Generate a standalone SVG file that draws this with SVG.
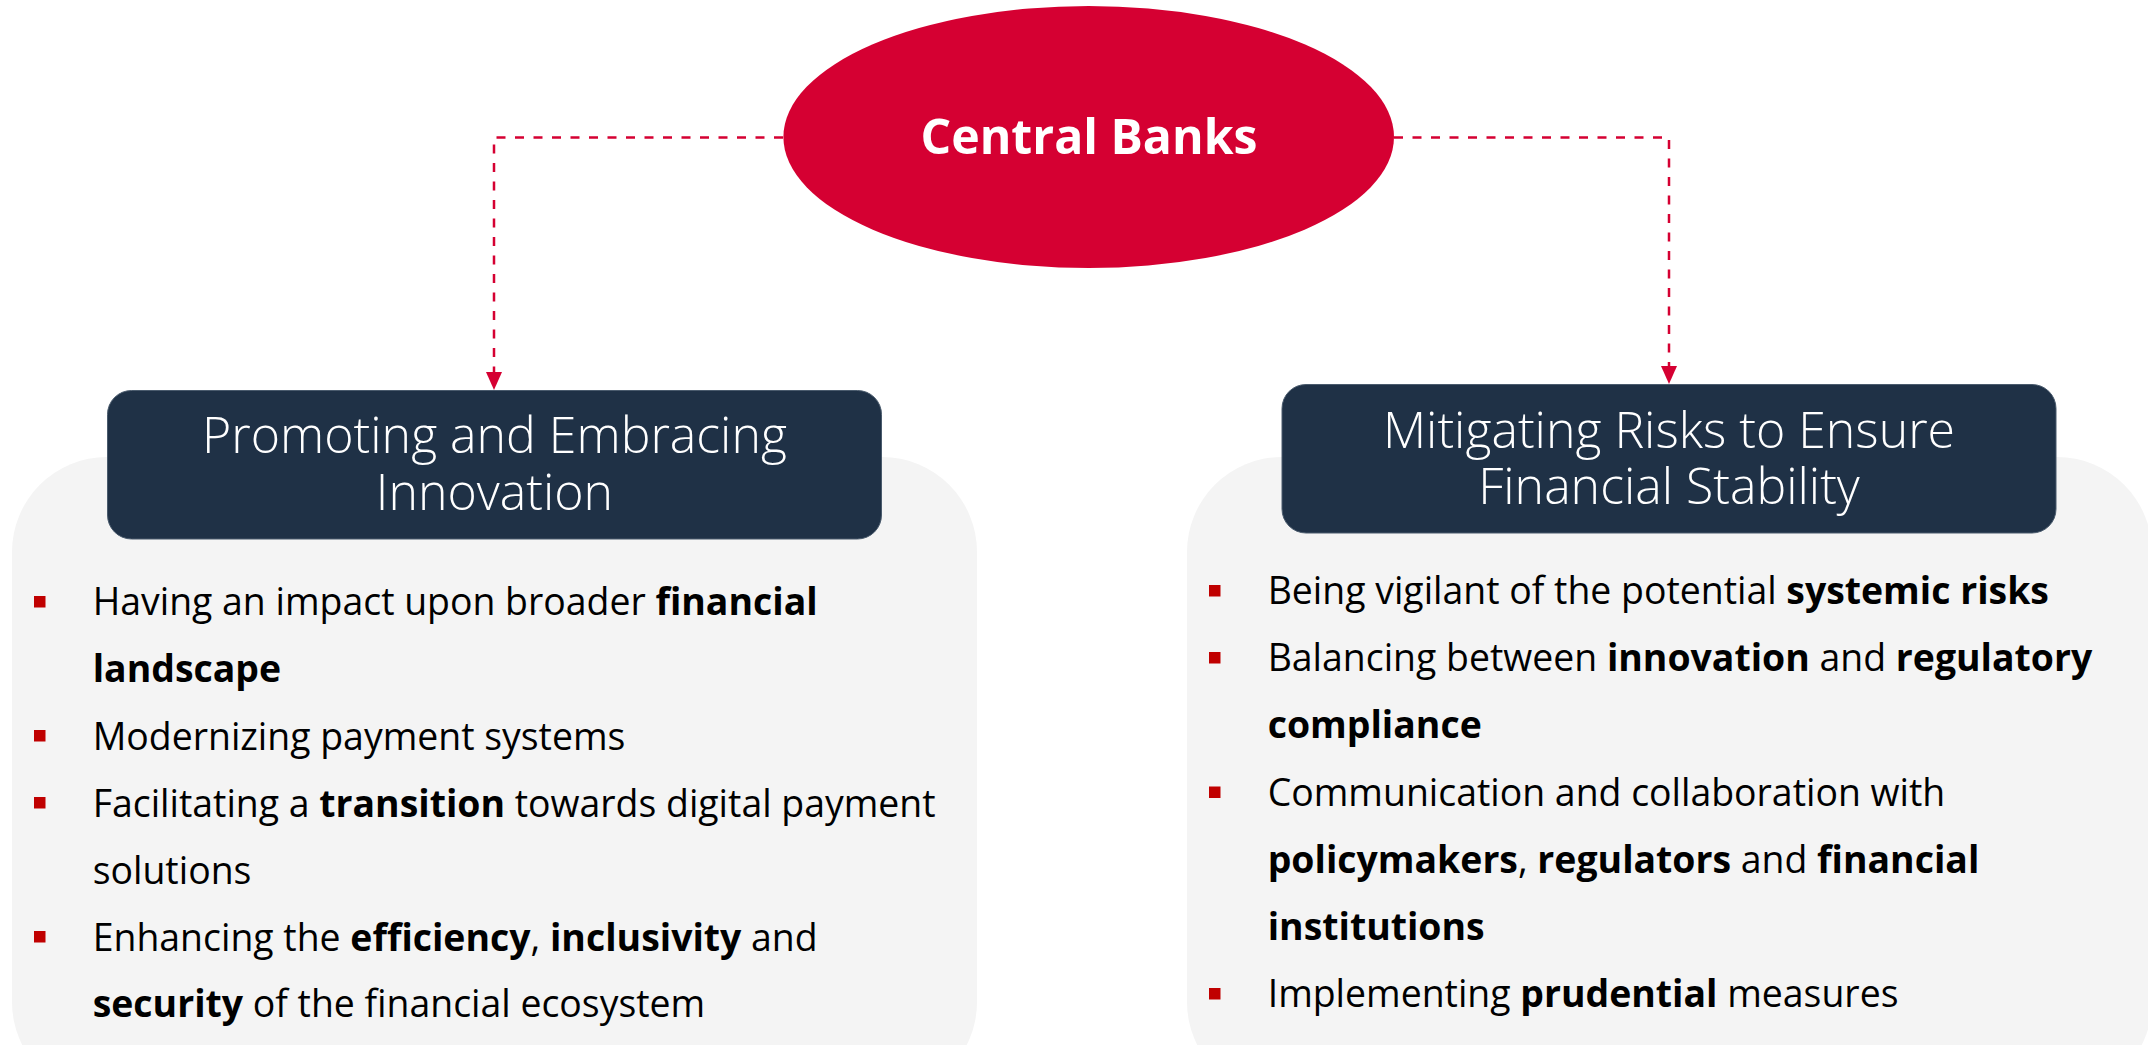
<svg xmlns="http://www.w3.org/2000/svg" width="2148" height="1045" viewBox="0 0 2148 1045">
<defs>
<style>
.panel{fill:#F4F4F4;}
.hdr{fill:#1F3146;stroke:#4A5B6D;stroke-width:1;}
.hdrtxt{font-family:"Open Sans","Liberation Sans",sans-serif;font-weight:300;font-size:50px;fill:#FFFFFF;text-anchor:middle;}
.body{font-family:"Open Sans","Liberation Sans",sans-serif;font-size:37.4px;fill:#000000;}
.b{font-weight:700;}
.bul{fill:#C00000;}
.conn{fill:none;stroke:#D50032;stroke-width:2.5;stroke-dasharray:9 9.5;}
</style>
</defs>
<rect width="2148" height="1045" fill="#FFFFFF"/>

<g id="panel-left">
<rect class="panel" x="12" y="457" width="965" height="640" rx="95" ry="95"/>
</g>
<g id="panel-right">
<rect class="panel" x="1187" y="457" width="965" height="640" rx="95" ry="95"/>
</g>

<g id="connectors">
<path class="conn" d="M783,137.5 H494 V372"/>
<path d="M486,372 L502,372 L494,390 Z" fill="#D50032"/>
<path class="conn" d="M1394,137.5 H1669 V366"/>
<path d="M1661,366 L1677,366 L1669,384 Z" fill="#D50032"/>
</g>

<g id="central-banks">
<ellipse cx="1088.7" cy="137" rx="305.3" ry="131" fill="#D50032"/>
<text x="1089" y="154" font-family="'Open Sans','Liberation Sans',sans-serif" font-weight="700" font-size="48.2" fill="#FFFFFF" text-anchor="middle">Central Banks</text>
</g>

<g id="header-left">
<rect class="hdr" x="107.5" y="390.5" width="774" height="148.5" rx="24" ry="24"/>
<text class="hdrtxt" x="494.5" y="452.7">Promoting and Embracing</text>
<text class="hdrtxt" x="494.5" y="510">Innovation</text>
</g>

<g id="header-right">
<rect class="hdr" x="1282" y="384.5" width="774" height="148.5" rx="24" ry="24"/>
<text class="hdrtxt" x="1669" y="447.7">Mitigating Risks to Ensure</text>
<text class="hdrtxt" x="1669" y="504.3">Financial Stability</text>
</g>

<g id="list-left">
<rect class="bul" x="34" y="596" width="11.5" height="11.5"/>
<rect class="bul" x="34" y="730" width="11.5" height="11.5"/>
<rect class="bul" x="34" y="797" width="11.5" height="11.5"/>
<rect class="bul" x="34" y="931" width="11.5" height="11.5"/>
<text class="body" x="92.7" y="615">Having an impact upon broader <tspan class="b">financial</tspan></text>
<text class="body" x="92.7" y="682"><tspan class="b">landscape</tspan></text>
<text class="body" x="92.7" y="749.5">Modernizing payment systems</text>
<text class="body" x="92.7" y="816.5">Facilitating a <tspan class="b">transition</tspan> towards digital payment</text>
<text class="body" x="92.7" y="883.5">solutions</text>
<text class="body" x="92.7" y="950.5">Enhancing the <tspan class="b">efficiency</tspan>, <tspan class="b">inclusivity</tspan> and</text>
<text class="body" x="92.7" y="1017"><tspan class="b">security</tspan> of the financial ecosystem</text>
</g>

<g id="list-right">
<rect class="bul" x="1209" y="585" width="11.5" height="11.5"/>
<rect class="bul" x="1209" y="652" width="11.5" height="11.5"/>
<rect class="bul" x="1209" y="786.5" width="11.5" height="11.5"/>
<rect class="bul" x="1209" y="988" width="11.5" height="11.5"/>
<text class="body" x="1267.7" y="603.5">Being vigilant of the potential <tspan class="b">systemic risks</tspan></text>
<text class="body" x="1267.7" y="670.5">Balancing between <tspan class="b">innovation</tspan> and <tspan class="b">regulatory</tspan></text>
<text class="body" x="1267.7" y="738"><tspan class="b">compliance</tspan></text>
<text class="body" x="1267.7" y="805.5">Communication and collaboration with</text>
<text class="body" x="1267.7" y="872.5"><tspan class="b">policymakers</tspan>, <tspan class="b">regulators</tspan> and <tspan class="b">financial</tspan></text>
<text class="body" x="1267.7" y="939.5"><tspan class="b">institutions</tspan></text>
<text class="body" x="1267.7" y="1006.5">Implementing <tspan class="b">prudential</tspan> measures</text>
</g>
</svg>
